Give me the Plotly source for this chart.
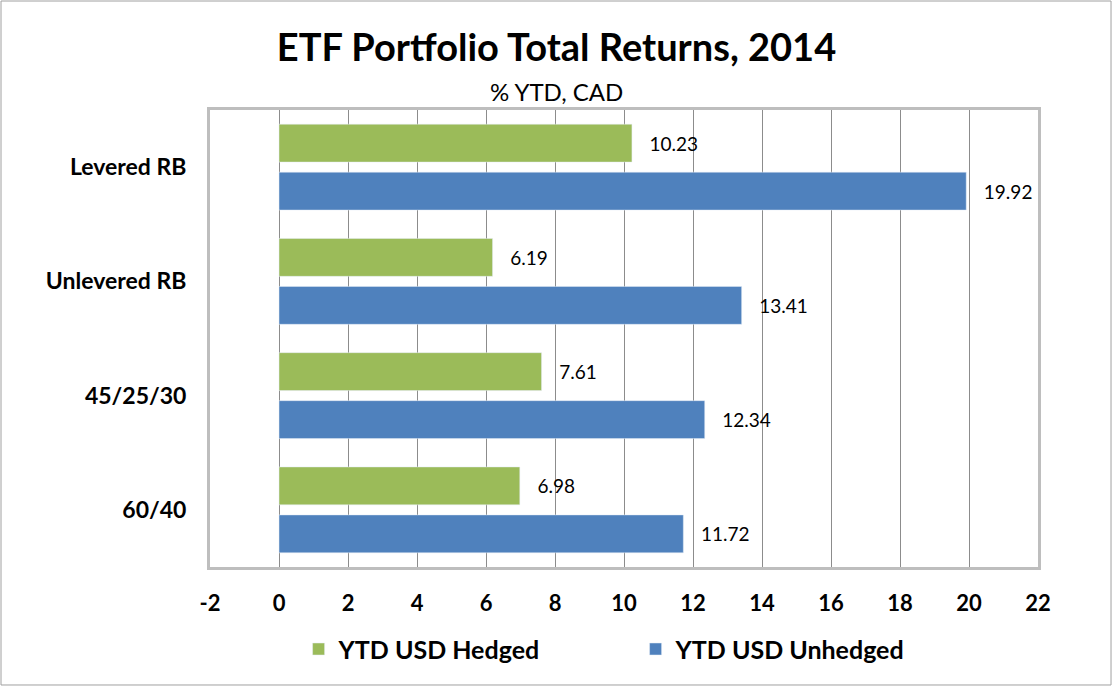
import plotly.graph_objects as go

portfolios = ["Levered RB", "Unlevered RB", "45/25/30", "60/40"]
hedged = [10.23, 6.19, 7.61, 6.98]
unhedged = [19.92, 13.41, 12.34, 11.72]
x_ticks = list(range(-2, 23, 2))

FONT = "Lato"
GREEN = "#9BBB59"
BLUE = "#4F81BD"
PAD = "\u00a0\u00a0\u00a0"  # Excel puts labels a little away from the bar end


def bar_trace(values, name, color):
    return go.Bar(
        y=portfolios,
        x=values,
        orientation="h",
        name=f"<b>{name}</b>",
        marker_color=color,
        text=[f"{PAD}{v:.2f}" for v in values],
        textposition="outside",
        textfont=dict(family=FONT, size=19, color="black"),
        cliponaxis=False,
    )


fig = go.Figure()
fig.add_trace(bar_trace(hedged, "YTD USD Hedged", GREEN))
fig.add_trace(bar_trace(unhedged, "YTD USD Unhedged", BLUE))

# thin frame round the whole chart
fig.add_shape(
    type="rect", xref="paper", yref="paper",
    x0=-0.2524, x1=1.0882, y0=-0.2582, y1=1.2385,
    line=dict(color="#A0A0A0", width=1),
)

fig.update_layout(
    width=1113,
    height=687,
    margin=dict(l=210, r=75, t=110, b=120),
    paper_bgcolor="white",
    plot_bgcolor="white",
    barmode="group",
    bargap=0.16,
    bargroupgap=0.21,
    showlegend=True,
    title=dict(
        text="<b>ETF Portfolio Total Returns, 2014</b>",
        x=0.5, xanchor="center", y=0.93, yanchor="middle",
        font=dict(family=FONT, size=38, color="black"),
    ),
    annotations=[
        dict(
            text="% YTD, CAD", xref="paper", yref="paper",
            x=0.419, y=1.04, xanchor="center", yanchor="middle",
            showarrow=False, font=dict(family=FONT, size=24, color="black"),
        )
    ],
    legend=dict(
        orientation="h", x=0.514, xanchor="center", y=-0.18, yanchor="middle",
        font=dict(family=FONT, size=25, color="black"),
        entrywidth=292, traceorder="normal",
    ),
    font=dict(family=FONT, color="black"),
)

fig.update_xaxes(
    range=[-2, 22],
    tickvals=x_ticks,
    ticktext=[f"<b>{t}</b>" for t in x_ticks],
    tickfont=dict(family=FONT, size=22, color="black"),
    showgrid=True,
    gridcolor="#8C8C8C",
    gridwidth=1,
    zeroline=True,
    zerolinecolor="#8C8C8C",
    zerolinewidth=1,
    showline=True,
    mirror=True,
    linecolor="#BEBEBE",
    linewidth=3,
    ticks="",
    ticklabelstandoff=15,
)
fig.update_yaxes(
    categoryorder="array",
    categoryarray=portfolios,
    autorange="reversed",
    tickvals=portfolios,
    ticktext=[f"<b>{p}</b>" for p in portfolios],
    tickfont=dict(family=FONT, size=23, color="black"),
    showgrid=False,
    showline=True,
    mirror=True,
    linecolor="#BEBEBE",
    linewidth=3,
    ticks="",
    ticklabelstandoff=16,
)

# drop the default page margin so the figure sits at the window's corner
fig.write_html(
    "out.html",
    config={"displayModeBar": False},
    post_script="document.body.style.margin='0';",
)
